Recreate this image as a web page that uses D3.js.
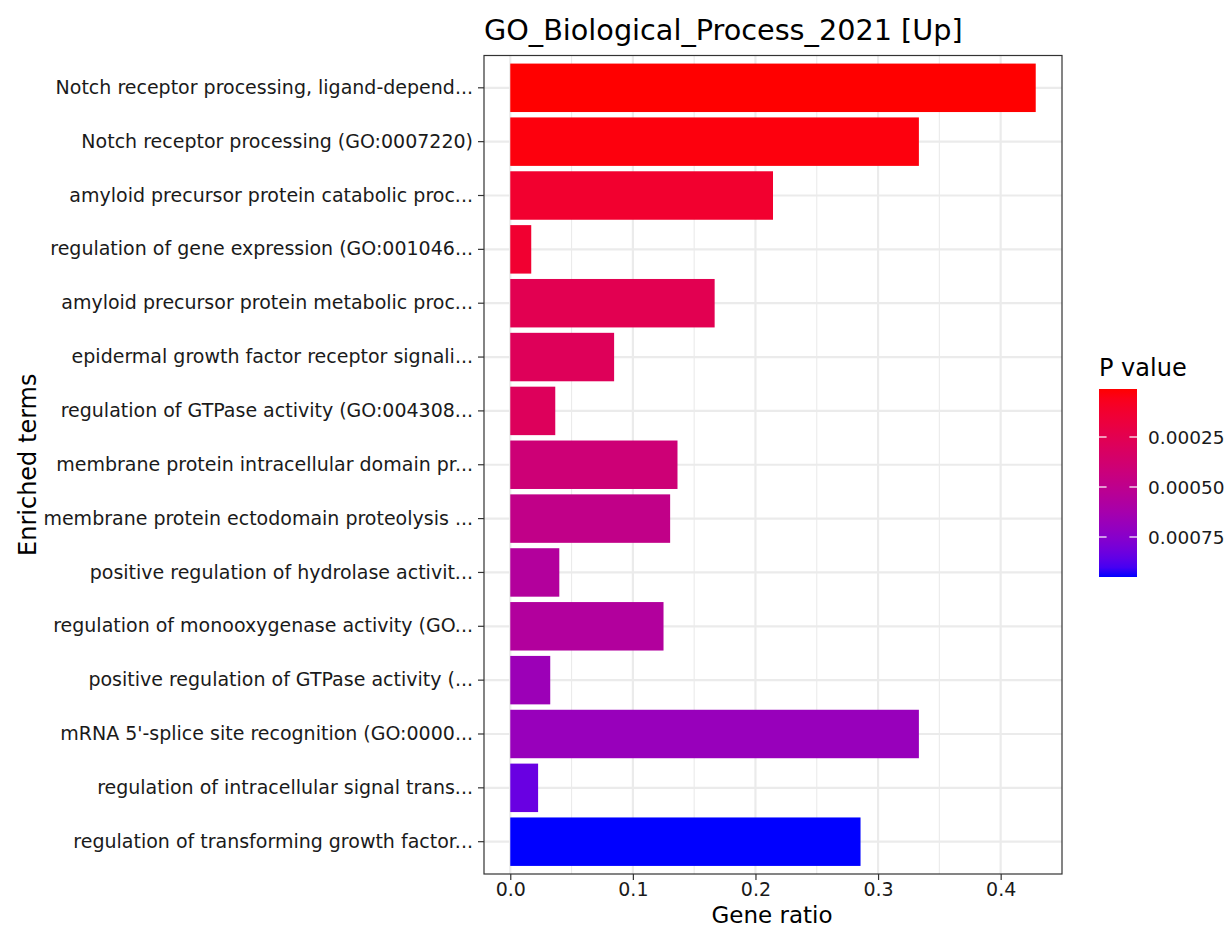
<!DOCTYPE html>
<html>
<head>
<meta charset="utf-8">
<script src="https://cdn.jsdelivr.net/npm/d3@7"></script>
<style>
  body { margin: 0; background: #fff; }
  text { font-family: "DejaVu Sans", sans-serif; }
</style>
</head>
<body>
<svg id="chart" width="1229" height="928"></svg>
<script>
// Enriched GO terms, ordered top to bottom
const terms = [
  "Notch receptor processing, ligand-depend...",
  "Notch receptor processing (GO:0007220)",
  "amyloid precursor protein catabolic proc...",
  "regulation of gene expression (GO:001046...",
  "amyloid precursor protein metabolic proc...",
  "epidermal growth factor receptor signali...",
  "regulation of GTPase activity (GO:004308...",
  "membrane protein intracellular domain pr...",
  "membrane protein ectodomain proteolysis ...",
  "positive regulation of hydrolase activit...",
  "regulation of monooxygenase activity (GO...",
  "positive regulation of GTPase activity (...",
  "mRNA 5'-splice site recognition (GO:0000...",
  "regulation of intracellular signal trans...",
  "regulation of transforming growth factor..."
];
const geneRatio = [0.4286, 0.3333, 0.2143, 0.0171, 0.1667, 0.0847, 0.0367, 0.1364,
                   0.1304, 0.0400, 0.1250, 0.0326, 0.3333, 0.0227, 0.2857];
const pValue = [0.000010, 0.000029, 0.000123, 0.000128, 0.000254, 0.000283, 0.000292,
                0.000405, 0.000480, 0.000560, 0.000565, 0.000668, 0.000687, 0.000837, 0.000950];
const xTicks = [0, 0.1, 0.2, 0.3, 0.4];
const xMinorTicks = [0.05, 0.15, 0.25, 0.35];
const legendTicks = [0.00025, 0.0005, 0.00075];
const legendTickLabels = ["0.00025", "0.00050", "0.00075"];

const svg = d3.select("#chart");
const panel = { left: 484, right: 1062, top: 55.5, bottom: 874 };

// x: gene ratio with 5% expansion on both ends
const xMax = d3.max(geneRatio);
const pad = xMax * 0.05;
const x = d3.scaleLinear().domain([-pad, xMax + pad]).range([panel.left, panel.right]);

const y = d3.scaleBand().domain(terms).range([panel.top, panel.bottom])
  .paddingInner(0.1).paddingOuter(0.15);

const color = d3.scaleLinear().domain(d3.extent(pValue)).range(["red", "blue"])
  .interpolate(d3.interpolateLab);

// grid
const grid = svg.append("g");
grid.selectAll("line.minor").data(xMinorTicks).join("line")
  .attr("x1", d => x(d)).attr("x2", d => x(d))
  .attr("y1", panel.top).attr("y2", panel.bottom)
  .attr("stroke", "#ebebeb").attr("stroke-width", 1.1);
grid.selectAll("line.major").data(xTicks).join("line")
  .attr("x1", d => x(d)).attr("x2", d => x(d))
  .attr("y1", panel.top).attr("y2", panel.bottom)
  .attr("stroke", "#ebebeb").attr("stroke-width", 2.2);
grid.selectAll("line.hmajor").data(terms).join("line")
  .attr("x1", panel.left).attr("x2", panel.right)
  .attr("y1", d => y(d) + y.bandwidth() / 2).attr("y2", d => y(d) + y.bandwidth() / 2)
  .attr("stroke", "#ebebeb").attr("stroke-width", 2.2);

// bars
svg.append("g").selectAll("rect").data(terms).join("rect")
  .attr("x", x(0))
  .attr("y", d => y(d))
  .attr("width", (d, i) => x(geneRatio[i]) - x(0))
  .attr("height", y.bandwidth())
  .attr("fill", (d, i) => color(pValue[i]));

// panel border
svg.append("rect")
  .attr("x", panel.left).attr("y", panel.top)
  .attr("width", panel.right - panel.left).attr("height", panel.bottom - panel.top)
  .attr("fill", "none").attr("stroke", "#333333").attr("stroke-width", 1.2);

// axes
const xAxis = svg.append("g").attr("transform", `translate(0,${panel.bottom})`)
  .call(d3.axisBottom(x).tickValues(xTicks).tickFormat(d3.format(".1f"))
    .tickSize(6).tickPadding(3));
xAxis.select(".domain").remove();
xAxis.selectAll(".tick line").attr("stroke", "#333333").attr("stroke-width", 1.2);
xAxis.selectAll(".tick text").attr("font-size", 19).attr("fill", "#1a1a1a")
  .attr("font-family", "DejaVu Sans");

const yAxis = svg.append("g").attr("transform", `translate(${panel.left},0)`)
  .call(d3.axisLeft(y).tickSize(6).tickPadding(5));
yAxis.select(".domain").remove();
yAxis.selectAll(".tick line").attr("stroke", "#333333").attr("stroke-width", 1.2);
yAxis.selectAll(".tick text").attr("font-size", 19).attr("fill", "#1a1a1a")
  .attr("font-family", "DejaVu Sans");

// titles
svg.append("text").attr("x", panel.left).attr("y", 40)
  .attr("font-size", 28.7).attr("fill", "#000").text("GO_Biological_Process_2021 [Up]");
svg.append("text").attr("x", (panel.left + panel.right) / 2 - 1).attr("y", 922.5)
  .attr("text-anchor", "middle").attr("font-size", 23).attr("fill", "#000").text("Gene ratio");
svg.append("text")
  .attr("transform", `translate(36,${(panel.top + panel.bottom) / 2}) rotate(-90)`)
  .attr("text-anchor", "middle").attr("font-size", 24).attr("fill", "#000").text("Enriched terms");

// colour bar legend
const lg = { x: 1099, y: 389, w: 38, h: 188 };
const legendY = d3.scaleLinear().domain(d3.extent(pValue)).range([lg.y, lg.y + lg.h]);
const grad = svg.append("defs").append("linearGradient").attr("id", "pgrad")
  .attr("x1", 0).attr("x2", 0).attr("y1", 0).attr("y2", 1);
grad.selectAll("stop").data(d3.range(0, 1.0001, 0.05)).join("stop")
  .attr("offset", d => d)
  .attr("stop-color", d => color(color.domain()[0] + d * (color.domain()[1] - color.domain()[0])));
svg.append("text").attr("x", lg.x).attr("y", 376).attr("font-size", 24).attr("fill", "#000")
  .text("P value");
svg.append("rect").attr("x", lg.x).attr("y", lg.y).attr("width", lg.w).attr("height", lg.h)
  .attr("fill", "url(#pgrad)");
const lt = svg.append("g");
legendTicks.forEach((v, i) => {
  const ty = legendY(v);
  lt.append("line").attr("x1", lg.x).attr("x2", lg.x + lg.w / 5).attr("y1", ty).attr("y2", ty)
    .attr("stroke", "#fff").attr("stroke-width", 1.2);
  lt.append("line").attr("x1", lg.x + lg.w - lg.w / 5).attr("x2", lg.x + lg.w).attr("y1", ty).attr("y2", ty)
    .attr("stroke", "#fff").attr("stroke-width", 1.2);
  lt.append("text").attr("x", lg.x + lg.w + 11).attr("y", ty).attr("dy", "0.36em")
    .attr("font-size", 18.5).attr("fill", "#1a1a1a").text(legendTickLabels[i]);
});
</script>
</body>
</html>
